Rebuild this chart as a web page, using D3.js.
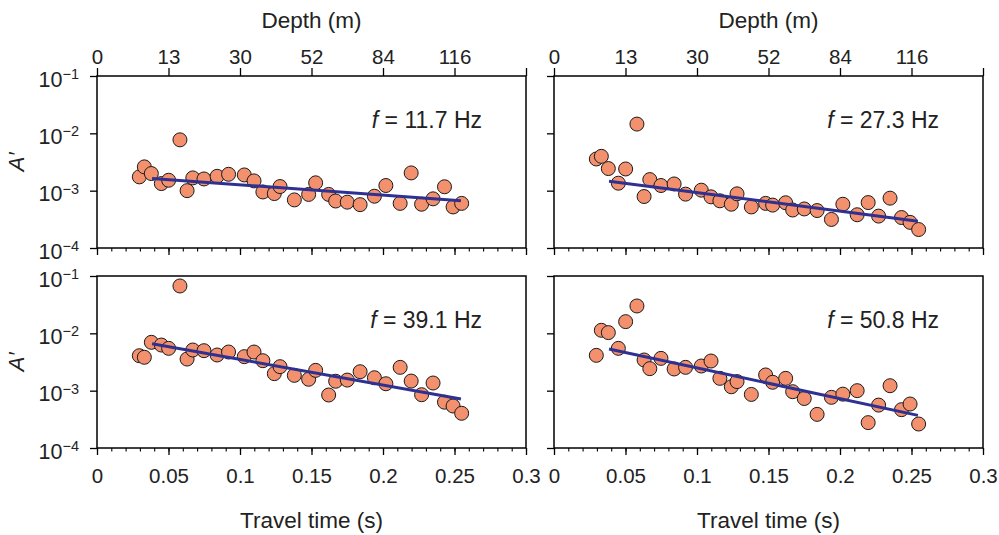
<!DOCTYPE html>
<html>
<head>
<meta charset="utf-8">
<script src="https://cdn.jsdelivr.net/npm/d3@7"></script>
<style>
  html, body { margin: 0; padding: 0; background: #fff; }
  svg { display: block; font-family: "Liberation Sans", Arial, Helvetica, sans-serif; }
</style>
</head>
<body>
<svg id="chart" width="999" height="535"></svg>
<script>
// Travel time of each receiver (s), shared by all four frequency panels
const travelTime = [0.0296, 0.0331, 0.0380, 0.0450, 0.0501, 0.0580, 0.0630, 0.0670,
  0.0748, 0.0840, 0.0920, 0.1030, 0.1098, 0.1160, 0.1240, 0.1280, 0.1380, 0.1480,
  0.1529, 0.1620, 0.1669, 0.1750, 0.1840, 0.1940, 0.2020, 0.2120, 0.2197, 0.2270,
  0.2350, 0.2430, 0.2490, 0.2550];

// Normalised amplitude A′ per frequency
const amp117 = [1.74e-3, 2.6e-3, 1.99e-3, 1.33e-3, 1.52e-3, 7.7e-3, 1.0e-3, 1.67e-3,
  1.6e-3, 1.78e-3, 1.93e-3, 1.88e-3, 1.48e-3, 9.5e-4, 8.9e-4, 1.18e-3, 6.9e-4, 8.6e-4,
  1.37e-3, 8.6e-4, 6.6e-4, 6.3e-4, 5.7e-4, 8.0e-4, 1.23e-3, 6.0e-4, 2.04e-3, 5.8e-4,
  7.2e-4, 1.17e-3, 5.2e-4, 6.0e-4];
const amp273 = [3.57e-3, 3.97e-3, 2.43e-3, 1.35e-3, 2.39e-3, 1.45e-2, 7.9e-4, 1.56e-3,
  1.23e-3, 1.31e-3, 8.7e-4, 1.02e-3, 7.8e-4, 6.65e-4, 5.8e-4, 8.8e-4, 5.2e-4, 6.0e-4,
  5.6e-4, 6.15e-4, 4.6e-4, 4.8e-4, 4.5e-4, 3.15e-4, 5.8e-4, 3.8e-4, 6.2e-4, 3.6e-4,
  7.4e-4, 3.4e-4, 2.8e-4, 2.1e-4];
const amp391 = [4.07e-3, 3.82e-3, 6.97e-3, 6.25e-3, 5.47e-3, 6.7e-2, 3.56e-3, 5.12e-3,
  4.98e-3, 4.19e-3, 4.72e-3, 3.92e-3, 4.72e-3, 3.33e-3, 1.98e-3, 2.62e-3, 1.85e-3, 1.58e-3,
  2.26e-3, 8.4e-4, 1.46e-3, 1.53e-3, 2.14e-3, 1.68e-3, 1.32e-3, 2.55e-3, 1.47e-3, 8.5e-4,
  1.36e-3, 6.3e-4, 5.4e-4, 4.03e-4];
const amp508 = [4.13e-3, 1.13e-2, 1.03e-2, 5.47e-3, 1.6e-2, 3.0e-2, 3.43e-3, 2.42e-3,
  3.66e-3, 2.39e-3, 2.55e-3, 2.69e-3, 3.29e-3, 1.64e-3, 1.17e-3, 1.44e-3, 8.6e-4, 1.88e-3,
  1.40e-3, 1.64e-3, 9.6e-4, 7.3e-4, 3.86e-4, 7.65e-4, 8.7e-4, 1.0e-3, 2.77e-4, 5.6e-4,
  1.22e-3, 4.66e-4, 5.85e-4, 2.62e-4];

// Fitted attenuation line: end points (travel time, A′)
const fitTime = [0.0385, 0.2545];
const fit117 = [1.63e-3, 6.65e-4];
const fit273 = [1.46e-3, 2.94e-4];
const fit391 = [6.6e-3, 7.15e-4];
const fit508 = [5.33e-3, 3.71e-4];

const frequencies = ["11.7", "27.3", "39.1", "50.8"];

// Axis ticks
const timeTicks = [0, 0.05, 0.1, 0.15, 0.2, 0.25, 0.3];
const timeTickLabels = ["0", "0.05", "0.1", "0.15", "0.2", "0.25", "0.3"];
const timeMinorTicks = d3.range(0, 31).map(i => i / 100);
const depthTickLabels = ["0", "13", "30", "52", "84", "116"];
const ampTicks = [1e-4, 1e-3, 1e-2, 1e-1];

const panels = [
  { amp: amp117, fit: fit117, f: frequencies[0], col: 0, row: 0 },
  { amp: amp273, fit: fit273, f: frequencies[1], col: 1, row: 0 },
  { amp: amp391, fit: fit391, f: frequencies[2], col: 0, row: 1 },
  { amp: amp508, fit: fit508, f: frequencies[3], col: 1, row: 1 }
];

const colX = [97, 554];
const rowY = [76, 276];
const pw = 429, ph = 172;

const svg = d3.select("#chart");
const markerFill = "#f3916e";
const lineColor = "#2e3192";
const textColor = "#222";
const tickFont = 20.5;
const titleFont = 22.5;

panels.forEach(p => {
  const g = svg.append("g").attr("transform", `translate(${colX[p.col]},${rowY[p.row]})`);
  const x = d3.scaleLinear().domain([0, 0.3]).range([0, pw]);
  const y = d3.scaleLog().domain([1e-4, 1e-1]).range([ph, 0]);

  // left axis with decade ticks
  const yAxis = g.append("g").call(d3.axisLeft(y).tickValues(ampTicks).tickSize(7).tickSizeOuter(0).tickFormat(() => ""));
  yAxis.select(".domain").remove();
  yAxis.selectAll("line").attr("stroke", "#000").attr("stroke-width", 1.3);
  if (p.col === 0) {
    yAxis.selectAll(".tick").each(function (d) {
      const t = d3.select(this).append("text")
        .attr("x", -18).attr("y", 0).attr("dy", "0.48em")
        .attr("text-anchor", "end").attr("fill", textColor)
        .attr("font-size", tickFont + 1);
      t.append("tspan").text("10");
      t.append("tspan").attr("dy", "-0.55em").attr("font-size", 14.5)
        .text("\u2212" + Math.round(-Math.log10(d)));
    });
    g.append("text")
      .attr("transform", `translate(-73,${ph / 2}) rotate(-90)`)
      .attr("text-anchor", "middle").attr("font-size", 22.5)
      .attr("font-style", "italic").attr("fill", textColor)
      .text("A\u2032");
  }

  // bottom axis: major and minor ticks
  const minor = g.append("g").attr("transform", `translate(0,${ph})`)
    .call(d3.axisBottom(x).tickValues(timeMinorTicks).tickSize(3.5).tickFormat(() => ""));
  minor.select(".domain").remove();
  minor.selectAll("line").attr("stroke", "#000").attr("stroke-width", 1.1);
  const major = g.append("g").attr("transform", `translate(0,${ph})`)
    .call(d3.axisBottom(x).tickValues(timeTicks).tickSize(7).tickSizeOuter(0)
      .tickFormat((d, i) => p.row === 1 ? timeTickLabels[i] : ""));
  major.select(".domain").remove();
  major.selectAll("line").attr("stroke", "#000").attr("stroke-width", 1.3);
  major.selectAll("text").attr("font-size", tickFont).attr("fill", textColor).attr("y", 20);

  // top axis: depth labels
  if (p.row === 0) {
    const top = g.append("g")
      .call(d3.axisTop(x).tickValues(timeTicks).tickSize(8).tickSizeOuter(0)
        .tickFormat((d, i) => depthTickLabels[i] || ""));
    top.select(".domain").remove();
    top.selectAll("line").attr("stroke", "#000").attr("stroke-width", 1.3);
    top.selectAll("text").attr("font-size", tickFont).attr("fill", textColor).attr("y", -12);
    g.append("text").attr("x", pw / 2).attr("y", -48)
      .attr("text-anchor", "middle").attr("font-size", titleFont).attr("fill", textColor)
      .text("Depth (m)");
  } else {
    g.append("text").attr("x", pw / 2).attr("y", ph + 80)
      .attr("text-anchor", "middle").attr("font-size", titleFont).attr("fill", textColor)
      .text("Travel time (s)");
  }

  // panel frame
  g.append("rect").attr("x", 0).attr("y", 0).attr("width", pw).attr("height", ph)
    .attr("fill", "none").attr("stroke", "#000").attr("stroke-width", 1.5);

  // data points
  g.append("g").selectAll("circle")
    .data(travelTime.map((t, i) => [t, p.amp[i]]))
    .join("circle")
    .attr("cx", d => x(d[0])).attr("cy", d => y(d[1])).attr("r", 7)
    .attr("fill", markerFill).attr("stroke", "#1a1a1a").attr("stroke-width", 1);

  // fitted line
  g.append("path")
    .datum(fitTime.map((t, i) => [t, p.fit[i]]))
    .attr("d", d3.line().x(d => x(d[0])).y(d => y(d[1])))
    .attr("fill", "none").attr("stroke", lineColor).attr("stroke-width", 3);

  // frequency annotation
  const ann = g.append("text").attr("x", pw - 44).attr("y", 52)
    .attr("text-anchor", "end").attr("font-size", 23).attr("fill", textColor);
  ann.append("tspan").attr("font-style", "italic").text("f");
  ann.append("tspan").text(" = " + p.f + " Hz");
});
</script>
</body>
</html>
